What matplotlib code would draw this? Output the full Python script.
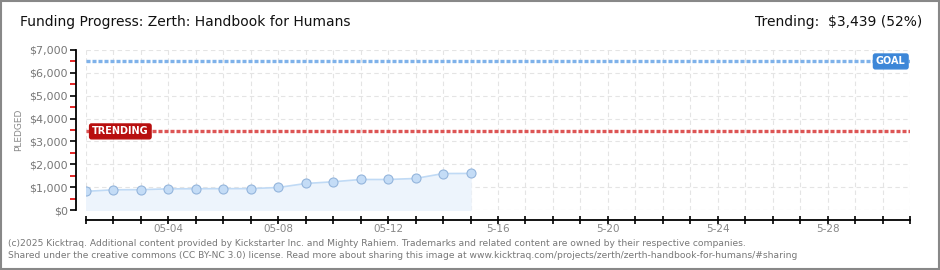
import matplotlib.pyplot as plt
from matplotlib.ticker import MultipleLocator, FuncFormatter

days = list(range(1, 16))
pledged = [815, 885, 890, 925, 930, 935, 935, 985, 1160, 1235, 1335, 1335, 1380, 1595, 1600]
goal = 6500
trending = 3439
tick_days = [4, 8, 12, 16, 20, 24, 28]
tick_labels = ['05-04', '05-08', '05-12', '5-16', '5-20', '5-24', '5-28']

fig = plt.figure(figsize=(9.4, 2.7), dpi=100)
ax = fig.add_axes([86 / 940, 60 / 270, 824 / 940, 160 / 270])

grid_kw = dict(color='#e4e4e4', linestyle=(0, (4, 3)), linewidth=0.8, zorder=0)
for d in range(1, 32):
    ax.axvline(d, **grid_kw)
for v in range(0, 7001, 1000):
    ax.axhline(v, **grid_kw)

ax.fill_between(days, pledged, 0, color='#edf4fc', zorder=1)
ax.plot(days, pledged, color='#c0daf5', linewidth=1.2, zorder=2)
ax.plot(days, pledged, 'o', markersize=6.5, markerfacecolor='#c4dcf6',
        markeredgecolor='#94b5dc', markeredgewidth=0.8, zorder=3)

ax.axhline(goal, color='#7fb2ea', linestyle=(0, (1.2, 0.6)), linewidth=2.4, zorder=2)
ax.axhline(trending, color='#dd5555', linestyle=(0, (1.2, 0.6)), linewidth=2.4, zorder=2)

ax.text(30.3, goal, 'GOAL', color='white', fontsize=7, fontweight='bold',
        ha='center', va='center', zorder=5,
        bbox=dict(boxstyle='round,pad=0.25,rounding_size=0.2', fc='#3d87d8', ec='#3d87d8'))
ax.text(2.25, trending, 'TRENDING', color='white', fontsize=7, fontweight='bold',
        ha='center', va='center', zorder=5,
        bbox=dict(boxstyle='round,pad=0.25,rounding_size=0.2', fc='#b80f0f', ec='#b80f0f'))

ax.set_xlim(1, 31)
ax.set_ylim(0, 7000)

for s in ['top', 'right']:
    ax.spines[s].set_visible(False)
ax.spines['left'].set_position(('outward', 7))
ax.spines['bottom'].set_position(('outward', 7))
ax.spines['left'].set_linewidth(1.3)
ax.spines['bottom'].set_linewidth(1.3)

ax.yaxis.set_major_locator(MultipleLocator(1000))
ax.yaxis.set_minor_locator(MultipleLocator(500))
ax.yaxis.set_major_formatter(FuncFormatter(lambda v, p: '${:,.0f}'.format(v)))
ax.tick_params(axis='y', which='major', length=4, width=1.2, color='black',
               labelsize=8, labelcolor='#777777', pad=2)
ax.tick_params(axis='y', which='minor', length=4, width=1.2, color='#dd0000')

ax.set_xticks(range(1, 32), minor=True)
ax.set_xticks(tick_days)
ax.set_xticklabels(tick_labels)
ax.tick_params(axis='x', which='both', length=6, width=1.2, color='black',
               direction='inout', labelsize=7.5, labelcolor='#888888', pad=0)

fig.text(19 / 940, 1 - 130 / 270, 'PLEDGED', fontsize=6.5, color='#888888',
         rotation=90, ha='center', va='center')

fig.text(20 / 940, 1 - 22 / 270, 'Funding Progress: Zerth: Handbook for Humans',
         fontsize=10, color='#111111', va='center', ha='left')
fig.text(922 / 940, 1 - 22 / 270, 'Trending:  $3,439 (52%)',
         fontsize=10, color='#111111', va='center', ha='right')

fig.text(8 / 940, 1 - 243 / 270,
         '(c)2025 Kicktraq. Additional content provided by Kickstarter Inc. and Mighty Rahiem. '
         'Trademarks and related content are owned by their respective companies.',
         fontsize=6.6, color='#777777', va='center', ha='left')
fig.text(8 / 940, 1 - 256 / 270,
         'Shared under the creative commons (CC BY-NC 3.0) license. Read more about sharing this image at '
         'www.kicktraq.com/projects/zerth/zerth-handbook-for-humans/#sharing',
         fontsize=6.6, color='#777777', va='center', ha='left')

border = plt.Rectangle((0.001, 0.002), 0.998, 0.996, transform=fig.transFigure,
                       fill=False, edgecolor='#888888', linewidth=1.5)
fig.patches.append(border)

fig.savefig('out.png', dpi=100)
